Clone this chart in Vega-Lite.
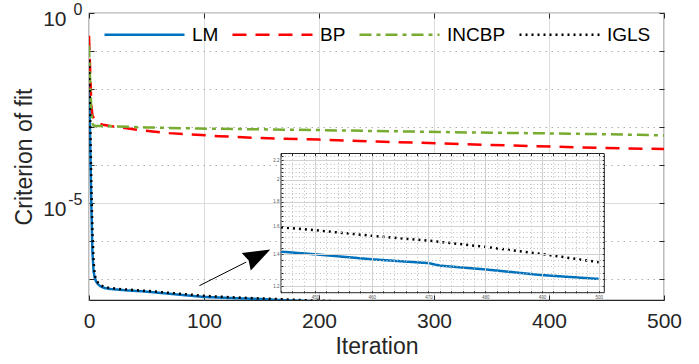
{
  "$schema": "https://vega.github.io/schema/vega-lite/v6.json",
  "width": 575,
  "height": 287,
  "autosize": {"type": "none"},
  "padding": {"left": 89, "top": 13, "right": 35, "bottom": 64},
  "config": {
    "font": "Liberation Sans",
    "view": {"stroke": "#262626", "strokeWidth": 1.2},
    "axis": {"labelFont": "Liberation Sans", "titleFont": "Liberation Sans"},
    "legend": {"labelFont": "Liberation Sans"}
  },
  "datasets": {
    "curves": [
      {"method": "LM", "iteration": 0, "value": 0.02512},
      {"method": "LM", "iteration": 1, "value": 5.012e-4},
      {"method": "LM", "iteration": 2, "value": 1.0e-5},
      {"method": "LM", "iteration": 3, "value": 5.012e-7},
      {"method": "LM", "iteration": 4, "value": 1.585e-7},
      {"method": "LM", "iteration": 5, "value": 1.072e-7},
      {"method": "LM", "iteration": 6, "value": 8.913e-8},
      {"method": "LM", "iteration": 7, "value": 7.943e-8},
      {"method": "LM", "iteration": 8, "value": 7.244e-8},
      {"method": "LM", "iteration": 10, "value": 6.457e-8},
      {"method": "LM", "iteration": 13, "value": 5.888e-8},
      {"method": "LM", "iteration": 18, "value": 5.495e-8},
      {"method": "LM", "iteration": 30, "value": 5.129e-8},
      {"method": "LM", "iteration": 50, "value": 4.677e-8},
      {"method": "LM", "iteration": 75, "value": 3.981e-8},
      {"method": "LM", "iteration": 100, "value": 3.388e-8},
      {"method": "LM", "iteration": 125, "value": 3.162e-8},
      {"method": "LM", "iteration": 150, "value": 2.985e-8},
      {"method": "LM", "iteration": 166, "value": 2.818e-8},
      {"method": "LM", "iteration": 200, "value": 2.588e-8},
      {"method": "LM", "iteration": 250, "value": 2.291e-8},
      {"method": "LM", "iteration": 300, "value": 2.028e-8},
      {"method": "LM", "iteration": 350, "value": 1.795e-8},
      {"method": "LM", "iteration": 400, "value": 1.596e-8},
      {"method": "LM", "iteration": 444, "value": 1.416e-8},
      {"method": "LM", "iteration": 450, "value": 1.398e-8},
      {"method": "LM", "iteration": 460, "value": 1.365e-8},
      {"method": "LM", "iteration": 470, "value": 1.340e-8},
      {"method": "LM", "iteration": 472, "value": 1.324e-8},
      {"method": "LM", "iteration": 476, "value": 1.312e-8},
      {"method": "LM", "iteration": 480, "value": 1.300e-8},
      {"method": "LM", "iteration": 490, "value": 1.265e-8},
      {"method": "LM", "iteration": 500, "value": 1.242e-8},
      {"method": "BP", "iteration": 0, "value": 0.2512},
      {"method": "BP", "iteration": 1, "value": 0.03162},
      {"method": "BP", "iteration": 2, "value": 3.981e-3},
      {"method": "BP", "iteration": 3, "value": 1.995e-3},
      {"method": "BP", "iteration": 5, "value": 1.514e-3},
      {"method": "BP", "iteration": 8, "value": 1.259e-3},
      {"method": "BP", "iteration": 12, "value": 1.148e-3},
      {"method": "BP", "iteration": 20, "value": 1.047e-3},
      {"method": "BP", "iteration": 44, "value": 8.318e-4},
      {"method": "BP", "iteration": 70, "value": 6.918e-4},
      {"method": "BP", "iteration": 113, "value": 5.754e-4},
      {"method": "BP", "iteration": 150, "value": 5.129e-4},
      {"method": "BP", "iteration": 200, "value": 4.677e-4},
      {"method": "BP", "iteration": 250, "value": 4.169e-4},
      {"method": "BP", "iteration": 304, "value": 3.715e-4},
      {"method": "BP", "iteration": 350, "value": 3.388e-4},
      {"method": "BP", "iteration": 407, "value": 3.020e-4},
      {"method": "BP", "iteration": 450, "value": 2.818e-4},
      {"method": "BP", "iteration": 500, "value": 2.630e-4},
      {"method": "INCBP", "iteration": 0, "value": 0.1413},
      {"method": "INCBP", "iteration": 1, "value": 0.01585},
      {"method": "INCBP", "iteration": 2, "value": 2.512e-3},
      {"method": "INCBP", "iteration": 3, "value": 1.259e-3},
      {"method": "INCBP", "iteration": 4, "value": 1.096e-3},
      {"method": "INCBP", "iteration": 6, "value": 1.072e-3},
      {"method": "INCBP", "iteration": 20, "value": 1.047e-3},
      {"method": "INCBP", "iteration": 50, "value": 9.772e-4},
      {"method": "INCBP", "iteration": 96, "value": 9.120e-4},
      {"method": "INCBP", "iteration": 150, "value": 8.710e-4},
      {"method": "INCBP", "iteration": 200, "value": 8.318e-4},
      {"method": "INCBP", "iteration": 250, "value": 7.852e-4},
      {"method": "INCBP", "iteration": 304, "value": 7.413e-4},
      {"method": "INCBP", "iteration": 350, "value": 7.079e-4},
      {"method": "INCBP", "iteration": 407, "value": 6.761e-4},
      {"method": "INCBP", "iteration": 450, "value": 6.457e-4},
      {"method": "INCBP", "iteration": 500, "value": 6.026e-4},
      {"method": "IGLS", "iteration": 0, "value": 0.05754},
      {"method": "IGLS", "iteration": 1, "value": 1.585e-3},
      {"method": "IGLS", "iteration": 2, "value": 3.162e-5},
      {"method": "IGLS", "iteration": 3, "value": 1.585e-6},
      {"method": "IGLS", "iteration": 4, "value": 2.818e-7},
      {"method": "IGLS", "iteration": 5, "value": 1.318e-7},
      {"method": "IGLS", "iteration": 6, "value": 1.0e-7},
      {"method": "IGLS", "iteration": 7, "value": 8.710e-8},
      {"method": "IGLS", "iteration": 8, "value": 7.943e-8},
      {"method": "IGLS", "iteration": 10, "value": 6.918e-8},
      {"method": "IGLS", "iteration": 13, "value": 6.310e-8},
      {"method": "IGLS", "iteration": 18, "value": 5.821e-8},
      {"method": "IGLS", "iteration": 30, "value": 5.370e-8},
      {"method": "IGLS", "iteration": 50, "value": 4.898e-8},
      {"method": "IGLS", "iteration": 75, "value": 4.217e-8},
      {"method": "IGLS", "iteration": 100, "value": 3.631e-8},
      {"method": "IGLS", "iteration": 125, "value": 3.311e-8},
      {"method": "IGLS", "iteration": 150, "value": 3.090e-8},
      {"method": "IGLS", "iteration": 182, "value": 2.818e-8},
      {"method": "IGLS", "iteration": 200, "value": 2.710e-8},
      {"method": "IGLS", "iteration": 250, "value": 2.432e-8},
      {"method": "IGLS", "iteration": 300, "value": 2.183e-8},
      {"method": "IGLS", "iteration": 350, "value": 1.959e-8},
      {"method": "IGLS", "iteration": 400, "value": 1.758e-8},
      {"method": "IGLS", "iteration": 444, "value": 1.592e-8},
      {"method": "IGLS", "iteration": 450, "value": 1.570e-8},
      {"method": "IGLS", "iteration": 460, "value": 1.528e-8},
      {"method": "IGLS", "iteration": 470, "value": 1.493e-8},
      {"method": "IGLS", "iteration": 480, "value": 1.449e-8},
      {"method": "IGLS", "iteration": 490, "value": 1.400e-8},
      {"method": "IGLS", "iteration": 500, "value": 1.346e-8}
    ],
    "arrow": [{"x0": 96, "y0": 6.71e-8, "x1": 136.8, "y1": 2.82e-7}],
    "arrowHead": [{"x": 147.2, "y": 4.14e-7}],
    "insetBox": [{"x0": 444, "x1": 501, "y0": 1.1623e-8, "y1": 2.27e-8}]
  },
  "layer": [
    {
      "data": {"name": "curves"},
      "mark": {"type": "line", "clip": true, "strokeWidth": 2.5},
      "encoding": {
        "x": {
          "field": "iteration", "type": "quantitative",
          "scale": {"domain": [0, 500], "nice": false, "zero": false},
          "axis": {
            "orient": "bottom",
            "title": "Iteration", "values": [0, 100, 200, 300, 400, 500],
            "grid": true, "gridColor": "#dcdcdc", "gridWidth": 1,
            "domain": false, "tickSize": -5, "tickColor": "#262626",
            "labelFontSize": 21, "labelColor": "#262626", "labelPadding": 15,
            "labelFlush": false,
            "titleFontSize": 23, "titleFontWeight": "normal", "titleColor": "#262626",
            "titlePadding": 4
          }
        },
        "y": {
          "field": "value", "type": "quantitative",
          "scale": {"type": "log", "domain": [2.82e-8, 1], "nice": false},
          "axis": {
            "orient": "left",
            "title": "Criterion of fit",
            "values": [1e-7, 1e-6, 1e-5, 1e-4, 1e-3, 1e-2, 1e-1, 1],
            "grid": true,
            "gridColor": {"condition": {"test": "datum.value > 0.5 || (datum.value > 5e-6 && datum.value < 2e-5)", "value": "#dcdcdc"}, "value": "#b0b0b0"},
            "gridDash": {"condition": {"test": "datum.value > 0.5 || (datum.value > 5e-6 && datum.value < 2e-5)", "value": []}, "value": [1.5, 4.5]},
            "labelExpr": "datum.value > 0.5 || (datum.value > 5e-6 && datum.value < 2e-5) ? '10' : ''",
            "labelFontSize": 21, "labelColor": "#262626", "labelPadding": 28, "labelOffset": 6,
            "tickSize": -5, "tickColor": "#262626", "domain": false,
            "titleFontSize": 23, "titleFontWeight": "normal", "titleColor": "#262626",
            "titlePadding": 6
          }
        },
        "color": {
          "field": "method", "type": "nominal",
          "scale": {"domain": ["LM", "BP", "INCBP", "IGLS"], "range": ["#0072BD", "#FF0000", "#77AC30", "#000000"]},
          "legend": {
            "orient": "none", "legendX": 14, "legendY": -20, "direction": "horizontal",
            "title": null, "symbolType": "stroke", "symbolSize": 6400, "symbolStrokeWidth": 2.5,
            "labelFontSize": 19, "labelColor": "#000000", "labelOffset": 6,
            "columnPadding": 8, "padding": 0
          }
        },
        "strokeDash": {
          "field": "method", "type": "nominal",
          "scale": {"domain": ["LM", "BP", "INCBP", "IGLS"], "range": [[1, 0], [14, 9], [12, 5, 4, 5], [2, 4]]}
        }
      }
    },
    {
      "data": {"name": "arrow"},
      "mark": {"type": "rule", "color": "#000000", "strokeWidth": 1},
      "encoding": {
        "x": {
          "field": "x0", "type": "quantitative", "scale": {"domain": [0, 500], "nice": false, "zero": false},
          "axis": {"orient": "top", "values": [0, 100, 200, 300, 400, 500], "labels": false, "domain": false, "grid": false, "tickSize": -5, "tickColor": "#262626", "title": null}
        },
        "y": {
          "field": "y0", "type": "quantitative", "scale": {"type": "log", "domain": [2.82e-8, 1], "nice": false},
          "axis": {"orient": "right", "values": [1e-7, 1e-6, 1e-5, 1e-4, 1e-3, 1e-2, 1e-1, 1], "labels": false, "domain": false, "grid": false, "tickSize": -5, "tickColor": "#262626", "title": null}
        },
        "x2": {"field": "x1"},
        "y2": {"field": "y1"}
      }
    },
    {
      "data": {"name": "arrowHead"},
      "mark": {"type": "point", "shape": "M1,0L-1,-0.73L-0.8,0L-1,0.73Z", "filled": true, "color": "#000000", "opacity": 1, "size": 729, "angle": 333},
      "encoding": {
        "x": {"field": "x", "type": "quantitative", "scale": {"domain": [0, 500], "nice": false, "zero": false}, "axis": null},
        "y": {
          "field": "y", "type": "quantitative", "scale": {"type": "log", "domain": [2.82e-8, 1], "nice": false},
          "axis": {"orient": "left", "values": [1e-5, 1], "labelExpr": "datum.value > 0.5 ? '0' : '-5'", "labelFontSize": 16, "labelColor": "#262626", "labelPadding": 7, "labelOffset": -4, "ticks": false, "domain": false, "grid": false, "title": null}
        }
      }
    },
    {
      "data": {"name": "insetBox"},
      "mark": {"type": "rect", "fill": "#ffffff", "stroke": "#262626", "strokeWidth": 1},
      "encoding": {
        "x": {
          "field": "x0", "type": "quantitative",
          "scale": {"domain": [444, 501], "range": [192, 515.3], "nice": false, "zero": false},
          "axis": {
            "orient": "top", "offset": -140.5, "title": null, "zindex": 1,
            "values": [444,446,448,450,452,454,456,458,460,462,464,466,468,470,472,474,476,478,480,482,484,486,488,490,492,494,496,498,500],
            "grid": true,
            "gridColor": {"condition": {"test": "datum.value % 10 === 0", "value": "#d2d2d2"}, "value": "#bdbdbd"},
            "gridDash": {"condition": {"test": "datum.value % 10 === 0", "value": []}, "value": [1, 2.5]},
            "labels": false, "domain": false, "tickSize": -2, "tickColor": "#262626"
          }
        },
        "x2": {"field": "x1"},
        "y": {
          "field": "y0", "type": "quantitative",
          "scale": {"type": "log", "domain": [1.1623e-8, 2.27e-8], "range": [279.7, 140.5], "nice": false},
          "axis": {
            "orient": "left", "offset": -192, "title": null, "zindex": 1,
            "values": [1.16e-8,1.2e-8,1.24e-8,1.28e-8,1.32e-8,1.36e-8,1.4e-8,1.44e-8,1.48e-8,1.52e-8,1.56e-8,1.6e-8,1.64e-8,1.68e-8,1.72e-8,1.76e-8,1.8e-8,1.84e-8,1.88e-8,1.92e-8,1.96e-8,2.0e-8,2.04e-8,2.08e-8,2.12e-8,2.16e-8,2.2e-8,2.24e-8],
            "grid": true,
            "gridColor": {"condition": {"test": "abs(datum.value*5e8 - round(datum.value*5e8)) < 0.01", "value": "#d2d2d2"}, "value": "#bdbdbd"},
            "gridDash": {"condition": {"test": "abs(datum.value*5e8 - round(datum.value*5e8)) < 0.01", "value": []}, "value": [1, 2.5]},
            "labelExpr": "abs(datum.value*5e8 - round(datum.value*5e8)) < 0.01 ? format(datum.value*1e8, '.1~f') : ''",
            "labelFontSize": 4.5, "labelColor": "#555555", "labelPadding": 4,
            "domain": false, "tickSize": -2, "tickColor": "#262626"
          }
        },
        "y2": {"field": "y1"}
      }
    },
    {
      "data": {"name": "curves"},
      "transform": [{"filter": "datum.iteration >= 444 && (datum.method === 'LM' || datum.method === 'IGLS')"}],
      "mark": {"type": "line", "strokeWidth": 2.5},
      "encoding": {
        "x": {
          "field": "iteration", "type": "quantitative",
          "scale": {"domain": [444, 501], "range": [192, 515.3], "nice": false, "zero": false},
          "axis": {
            "orient": "bottom", "offset": -7.3, "title": null, "zindex": 1,
            "values": [444,446,448,450,452,454,456,458,460,462,464,466,468,470,472,474,476,478,480,482,484,486,488,490,492,494,496,498,500],
            "grid": false, "labelExpr": "datum.value % 10 === 0 ? datum.label : ''",
            "labelFontSize": 4.5, "labelColor": "#555555", "labelPadding": 4, "labelFlush": false,
            "domain": false, "tickSize": -2, "tickColor": "#262626"
          }
        },
        "y": {
          "field": "value", "type": "quantitative",
          "scale": {"type": "log", "domain": [1.1623e-8, 2.27e-8], "range": [279.7, 140.5], "nice": false},
          "axis": {
            "orient": "right", "offset": -59.7, "title": null, "zindex": 1,
            "values": [1.16e-8,1.2e-8,1.24e-8,1.28e-8,1.32e-8,1.36e-8,1.4e-8,1.44e-8,1.48e-8,1.52e-8,1.56e-8,1.6e-8,1.64e-8,1.68e-8,1.72e-8,1.76e-8,1.8e-8,1.84e-8,1.88e-8,1.92e-8,1.96e-8,2.0e-8,2.04e-8,2.08e-8,2.12e-8,2.16e-8,2.2e-8,2.24e-8],
            "grid": false, "labels": false, "domain": false, "tickSize": -2, "tickColor": "#262626"
          }
        },
        "color": {
          "field": "method", "type": "nominal",
          "scale": {"domain": ["LM", "BP", "INCBP", "IGLS"], "range": ["#0072BD", "#FF0000", "#77AC30", "#000000"]},
          "legend": null
        },
        "strokeDash": {
          "field": "method", "type": "nominal",
          "scale": {"domain": ["LM", "BP", "INCBP", "IGLS"], "range": [[1, 0], [14, 9], [12, 5, 4, 5], [2, 4]]},
          "legend": null
        }
      }
    }
  ],
  "resolve": {"scale": {"x": "independent", "y": "independent"}}
}
